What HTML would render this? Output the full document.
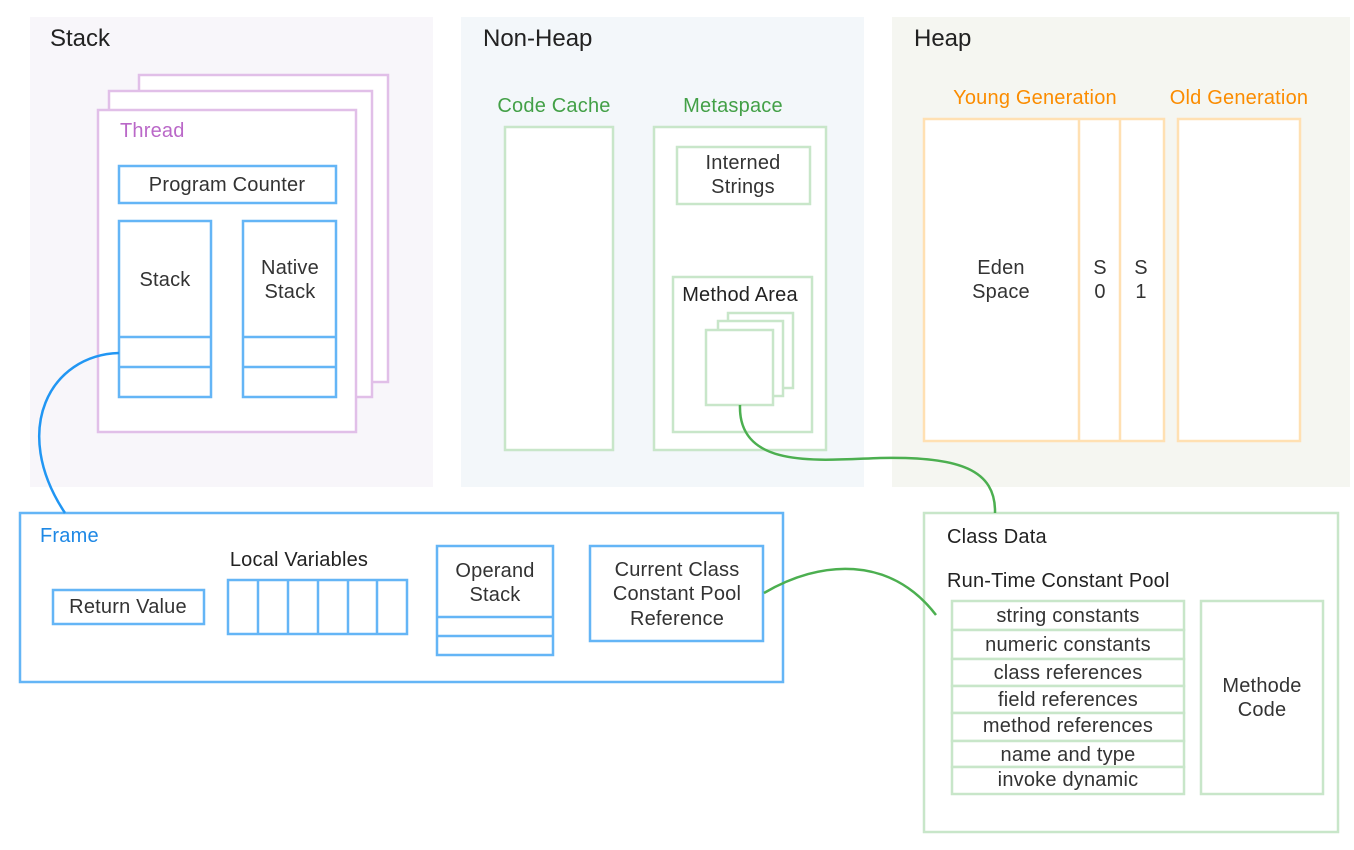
<!DOCTYPE html>
<html><head><meta charset="utf-8"><style>
html,body{margin:0;padding:0;background:#fff;}
svg{display:block;}
text{font-family:"Liberation Sans","DejaVu Sans",sans-serif;font-size:20px;fill:#333;letter-spacing:0.2px;}
.c{text-anchor:middle;}
.pw{fill:#fff;stroke:#e1bfe8;stroke-width:2.5;}
.b{fill:#fff;stroke:#64b5f6;stroke-width:2.5;}
.g{fill:#fff;stroke:#c8e6c9;stroke-width:2.5;}
.o{fill:#fff;stroke:#ffe0b2;stroke-width:2.5;}
.h{font-size:24px;fill:#222;letter-spacing:0;}
</style></head><body>
<svg width="1354" height="850" viewBox="0 0 1354 850" xmlns="http://www.w3.org/2000/svg">
<rect x="30" y="17" width="403" height="470" fill="#f8f6fa"/>
<rect x="461" y="17" width="403" height="470" fill="#f3f7fa"/>
<rect x="892" y="17" width="458" height="470" fill="#f5f6f1"/>
<text x="50" y="46" class="h">Stack</text>
<text x="483" y="46" class="h">Non-Heap</text>
<text x="914" y="46" class="h">Heap</text>

<rect x="139" y="75" width="249" height="307" class="pw"/>
<rect x="109" y="91" width="263" height="306" class="pw"/>
<rect x="98" y="110" width="258" height="322" class="pw"/>
<text x="120" y="137" style="fill:#ba68c8">Thread</text>
<rect x="119" y="166" width="217" height="37" class="b"/>
<text x="227" y="191" class="c">Program Counter</text>
<rect x="119" y="221" width="92" height="176" class="b"/>
<line x1="119" y1="337" x2="211" y2="337" stroke="#64b5f6" stroke-width="2.5"/>
<line x1="119" y1="367" x2="211" y2="367" stroke="#64b5f6" stroke-width="2.5"/>
<text x="165" y="286" class="c">Stack</text>
<rect x="243" y="221" width="93" height="176" class="b"/>
<line x1="243" y1="337" x2="336" y2="337" stroke="#64b5f6" stroke-width="2.5"/>
<line x1="243" y1="367" x2="336" y2="367" stroke="#64b5f6" stroke-width="2.5"/>
<text x="290" y="274" class="c">Native</text>
<text x="290" y="298" class="c">Stack</text>

<text x="554" y="112" class="c" style="fill:#43a047">Code Cache</text>
<text x="733" y="112" class="c" style="fill:#43a047">Metaspace</text>
<rect x="505" y="127" width="108" height="323" class="g"/>
<rect x="654" y="127" width="172" height="323" class="g"/>
<rect x="677" y="147" width="133" height="57" class="g"/>
<text x="743" y="169" class="c">Interned</text>
<text x="743" y="193" class="c">Strings</text>
<rect x="673" y="277" width="139" height="155" class="g"/>
<text x="740" y="301" class="c" style="fill:#222">Method Area</text>
<rect x="728" y="313" width="65" height="75" class="g"/>
<rect x="718" y="321" width="65" height="75" class="g"/>
<rect x="706" y="330" width="67" height="75" class="g"/>

<text x="1035" y="104" class="c" style="fill:#fb8c00">Young Generation</text>
<text x="1239" y="104" class="c" style="fill:#fb8c00">Old Generation</text>
<rect x="924" y="119" width="240" height="322" class="o"/>
<line x1="1079" y1="119" x2="1079" y2="441" stroke="#ffe0b2" stroke-width="2.5"/>
<line x1="1120" y1="119" x2="1120" y2="441" stroke="#ffe0b2" stroke-width="2.5"/>
<rect x="1178" y="119" width="122" height="322" class="o"/>
<text x="1001" y="274" class="c">Eden</text>
<text x="1001" y="298" class="c">Space</text>
<text x="1100" y="274" class="c">S</text>
<text x="1100" y="298" class="c">0</text>
<text x="1141" y="274" class="c">S</text>
<text x="1141" y="298" class="c">1</text>

<rect x="20" y="513" width="763" height="169" class="b"/>
<text x="40" y="542" style="fill:#1e88e5">Frame</text>
<rect x="53" y="590" width="151" height="34" class="b"/>
<text x="128" y="613" class="c">Return Value</text>
<text x="299" y="566" class="c" style="fill:#222">Local Variables</text>
<rect x="228" y="580" width="179" height="54" class="b"/>
<g stroke="#64b5f6" stroke-width="2.5">
<line x1="258" y1="580" x2="258" y2="634"/><line x1="288" y1="580" x2="288" y2="634"/>
<line x1="318" y1="580" x2="318" y2="634"/><line x1="348" y1="580" x2="348" y2="634"/>
<line x1="377" y1="580" x2="377" y2="634"/>
<line x1="437" y1="617" x2="553" y2="617"/><line x1="437" y1="636" x2="553" y2="636"/>
</g>
<rect x="437" y="546" width="116" height="109" class="b" style="fill:none"/>
<text x="495" y="577" class="c">Operand</text>
<text x="495" y="601" class="c">Stack</text>
<rect x="590" y="546" width="173" height="95" class="b"/>
<text x="677" y="576" class="c">Current Class</text>
<text x="677" y="600" class="c">Constant Pool</text>
<text x="677" y="625" class="c">Reference</text>

<rect x="924" y="513" width="414" height="319" class="g"/>
<text x="947" y="543" style="fill:#222">Class Data</text>
<text x="947" y="587" style="fill:#222">Run-Time Constant Pool</text>
<rect x="952" y="601" width="232" height="29" class="g"/>
<rect x="952" y="630" width="232" height="29" class="g"/>
<rect x="952" y="659" width="232" height="27" class="g"/>
<rect x="952" y="686" width="232" height="27" class="g"/>
<rect x="952" y="713" width="232" height="28" class="g"/>
<rect x="952" y="741" width="232" height="26" class="g"/>
<rect x="952" y="767" width="232" height="27" class="g"/>
<text x="1068" y="622" class="c">string constants</text>
<text x="1068" y="651" class="c">numeric constants</text>
<text x="1068" y="679" class="c">class references</text>
<text x="1068" y="706" class="c">field references</text>
<text x="1068" y="732" class="c">method references</text>
<text x="1068" y="761" class="c">name and type</text>
<text x="1068" y="786" class="c">invoke dynamic</text>
<rect x="1201" y="601" width="122" height="193" class="g"/>
<text x="1262" y="692" class="c">Methode</text>
<text x="1262" y="716" class="c">Code</text>

<path d="M119,353 C50,355 10,430 65,513" fill="none" stroke="#2196f3" stroke-width="2.5"/>
<path d="M740,405 C738,470 820,460 880,458 C960,456 996,470 995,513" fill="none" stroke="#4caf50" stroke-width="2.5"/>
<path d="M764,593 C820,560 890,555 936,615" fill="none" stroke="#4caf50" stroke-width="2.5"/>
</svg>
</body></html>
